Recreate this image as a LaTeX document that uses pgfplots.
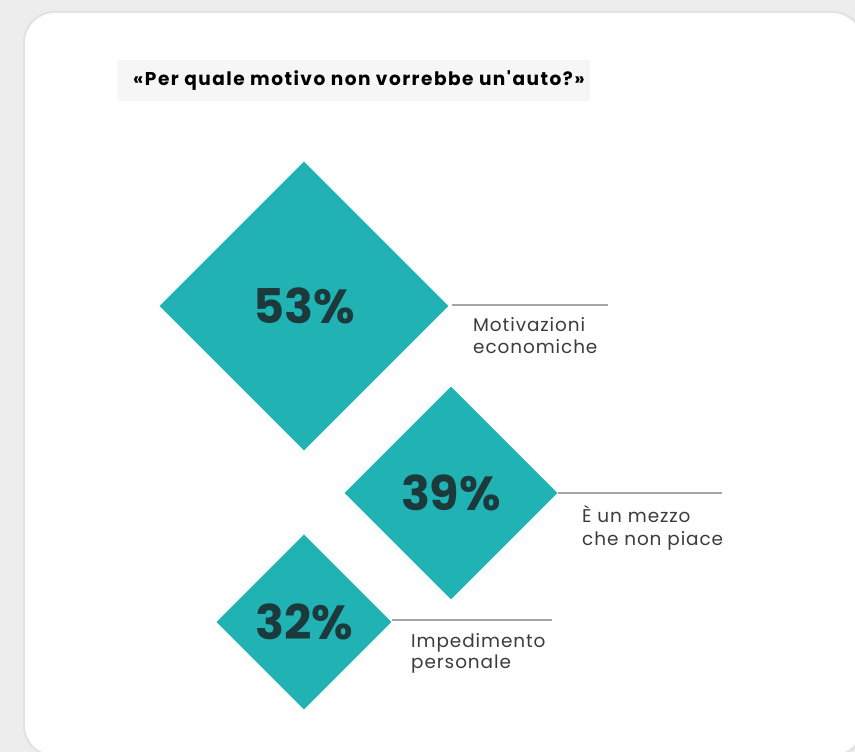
\documentclass[border=0pt]{standalone}
\usepackage{pgfplots}
\pgfplotsset{compat=1.18}
\usepackage{fontspec}
\setmainfont{Poppins}
\newfontfamily\titfont{Poppins}[LetterSpace=8]
\newfontfamily\labfont{Poppins}[LetterSpace=5]
\definecolor{bgc}{HTML}{EDEDED}
\definecolor{shad}{HTML}{E2E2E2}
\definecolor{tealc}{HTML}{21B3B3}
\definecolor{pctc}{HTML}{1C3A3C}
\definecolor{lab}{HTML}{3C3C3C}
\definecolor{rule}{HTML}{A5A5A5}
\definecolor{titbg}{HTML}{F6F6F6}

\pgfplotstableread{
x   y   share
304 306 53
451 493 39
304 622 32
}\shares

\begin{document}
\begin{tikzpicture}[x=1bp,y=1bp]
\useasboundingbox (0,0) rectangle (855,752);
\clip (0,0) rectangle (855,752);
\fill[bgc] (0,0) rectangle (855,752);
% card with a soft edge
\fill[shad, rounded corners=31bp] (23,-5) rectangle (864,741);
\fill[white, rounded corners=30bp] (25,-3) rectangle (862,739);

\begin{axis}[
    at={(0,0)}, anchor=south west,
    scale only axis,
    width=855bp, height=752bp,
    xmin=0, xmax=855, ymin=0, ymax=752,
    y dir=reverse,
    hide axis,
    clip=false,
  ]
  % title
  \fill[titbg] (axis cs:117,60) rectangle (axis cs:590,101);
  \node[anchor=west, text=black, inner sep=0pt,
    font=\titfont\bfseries\fontsize{18.6}{22}\selectfont]
    at (axis cs:133,81) {«Per quale motivo non vorrebbe un'auto?»};

  % diamonds, half diagonal proportional to the share
  \addplot[scatter, only marks, mark=square*,
    mark options={rotate=45, fill=tealc, draw=tealc},
    visualization depends on={\thisrow{share} \as \pv},
    scatter/@pre marker code/.code={%
      \pgfmathsetmacro\msize{1.93*\pv}%
      \scope[mark size=\msize pt, fill=tealc, draw=tealc]},
    scatter/@post marker code/.code={\endscope},
  ] table[x=x, y=y] {\shares};

  % share labels
  \addplot[draw=none, mark=none, point meta=explicit,
    nodes near coords={\pgfmathprintnumber[assume math mode=true]{\pgfplotspointmeta}\%},
    nodes near coords align=center,
    every node near coord/.append style={anchor=center, text=pctc,
      font=\bfseries\fontsize{48}{52}\selectfont},
  ] table[x=x, y=y, meta=share] {\shares};

  % leader lines
  \draw[rule, line width=1.3bp] (axis cs:452,305) -- (axis cs:608,305);
  \draw[rule, line width=1.3bp] (axis cs:558,493) -- (axis cs:722,493);
  \draw[rule, line width=1.3bp] (axis cs:392,620) -- (axis cs:552,620);

  % category labels
  \tikzset{lbl/.style={anchor=base west, text=lab, inner sep=0pt,
      font=\labfont\fontsize{18.5}{22}\selectfont}}
  \node[lbl] at (axis cs:473,332) {Motivazioni};
  \node[lbl] at (axis cs:473,354) {economiche};
  \node[lbl] at (axis cs:582,522) {È un mezzo};
  \node[lbl] at (axis cs:582,545) {che non piace};
  \node[lbl] at (axis cs:411,647) {Impedimento};
  \node[lbl] at (axis cs:411,668) {personale};
\end{axis}
\end{tikzpicture}
\end{document}
